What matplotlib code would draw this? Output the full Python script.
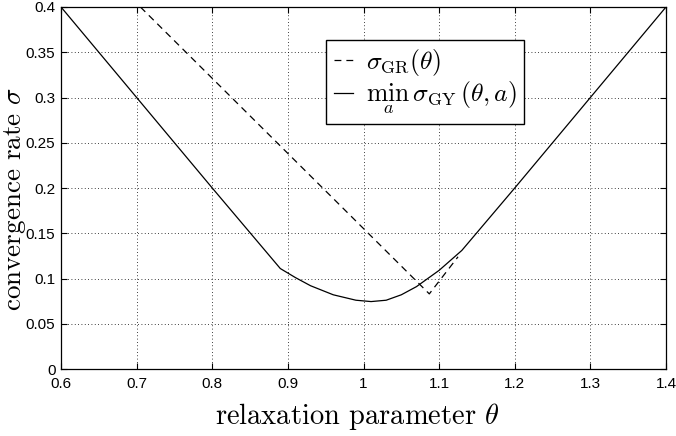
import numpy as np
import matplotlib
matplotlib.use('Agg')
import matplotlib.pyplot as plt

# values
theta_gy = [0.6, 0.7, 0.8, 0.89, 0.91, 0.93, 0.96, 0.99, 1.01, 1.03,
            1.05, 1.07, 1.1, 1.13, 1.2, 1.3, 1.4]
sigma_gy = [0.4, 0.3, 0.2, 0.111, 0.101, 0.092, 0.082, 0.076, 0.0745, 0.076,
            0.082, 0.091, 0.109, 0.131, 0.2, 0.3, 0.4]

theta_gr = [0.705, 1.087, 1.125]
sigma_gr = [0.4, 0.083, 0.124]

x_ticks = [0.6, 0.7, 0.8, 0.9, 1.0, 1.1, 1.2, 1.3, 1.4]
x_ticklabels = ['0.6', '0.7', '0.8', '0.9', '1', '1.1', '1.2', '1.3', '1.4']
y_ticks = [0, 0.05, 0.1, 0.15, 0.2, 0.25, 0.3, 0.35, 0.4]
y_ticklabels = ['0', '0.05', '0.1', '0.15', '0.2', '0.25', '0.3', '0.35', '0.4']

plt.rcParams['mathtext.fontset'] = 'cm'
plt.rcParams['font.family'] = ['Liberation Sans', 'DejaVu Sans']

fig = plt.figure(figsize=(6.76, 4.36), dpi=100)
ax = fig.add_axes([61 / 676, 1 - 369 / 436, 605 / 676, 362 / 436])

ax.plot(theta_gr, sigma_gr, color='black', lw=0.9, linestyle=(0, (5.5, 4)),
        label=r'$\sigma_{\mathrm{GR}}(\theta)$')
ax.plot(theta_gy, sigma_gy, color='black', lw=0.9,
        label=r'$\min_{a}\,\sigma_{\mathrm{GY}}(\theta,a)$')

ax.set_xlim(0.6, 1.4)
ax.set_ylim(0, 0.4)
ax.set_xticks(x_ticks)
ax.set_xticklabels(x_ticklabels)
ax.set_yticks(y_ticks)
ax.set_yticklabels(y_ticklabels)
ax.tick_params(direction='in', length=4, width=0.8, top=True, right=True,
               labelsize=11)
ax.tick_params(axis='x', pad=6)
ax.tick_params(axis='y', pad=4)
ax.grid(True, linestyle=(0, (1, 3)), color='black', lw=0.6)
for s in ax.spines.values():
    s.set_linewidth(0.9)

ax.set_xlabel(r'relaxation parameter $\theta$', fontsize=20.5, family='cmr10')
ax.xaxis.set_label_coords(0.49, -0.153)
ax.xaxis.label.set_va('baseline')
ax.set_ylabel(r'convergence rate $\sigma$', fontsize=19.5, family='cmr10')
ax.yaxis.set_label_coords(-0.066, 0.47)
ax.yaxis.label.set_va('baseline')

leg = ax.legend(loc='upper left', bbox_to_anchor=(0.438, 0.91), fontsize=18.5,
                handlelength=0.75, handletextpad=0.5, borderpad=0.3,
                labelspacing=0.05, fancybox=False, framealpha=1,
                edgecolor='black', borderaxespad=0)
leg.get_frame().set_linewidth(1.0)

fig.savefig('out.png', dpi=100)
